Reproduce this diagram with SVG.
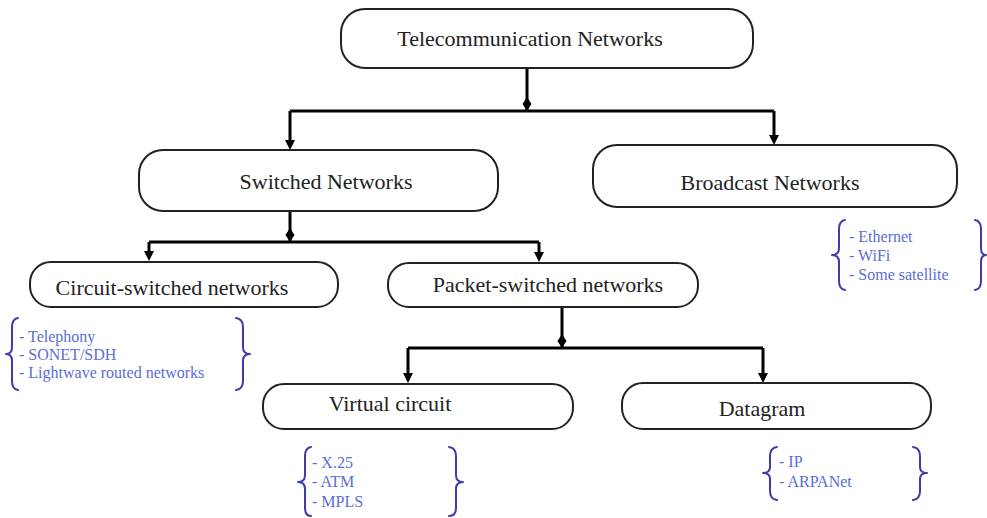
<svg xmlns="http://www.w3.org/2000/svg" width="987" height="518" viewBox="0 0 987 518">
<style>
.box{fill:#fff;stroke:#222;stroke-width:2}
.lbl{font-family:"Liberation Serif","Times New Roman",serif;font-size:22px;fill:#222;text-anchor:middle}
.item{font-family:"Liberation Serif","Times New Roman",serif;font-size:16px;fill:#5a6ed6}
.brace{fill:none;stroke:#3c3cab;stroke-width:2;stroke-linecap:round;stroke-linejoin:round}
.con{fill:none;stroke:#000;stroke-width:3}
</style>
<defs>
<marker id="arr" markerUnits="userSpaceOnUse" markerWidth="12" markerHeight="12" viewBox="0 -6 12 12" refX="2" refY="0" orient="auto">
<path d="M0,-5 L10,0 L0,5 z" fill="#000"/>
</marker>
<marker id="dia" markerUnits="userSpaceOnUse" markerWidth="16" markerHeight="12" viewBox="0 -6 16 12" refX="14" refY="0" orient="auto">
<path d="M0,0 L7,-4.5 L14,0 L7,4.5 z" fill="#000"/>
</marker>
</defs>

<g id="connectors">
<path class="con" d="M527,68 V111" marker-end="url(#dia)"/>
<path class="con" d="M774,111 H290"/>
<path class="con" d="M290,111 V142" marker-end="url(#arr)"/>
<path class="con" d="M774,111 V137" marker-end="url(#arr)"/>
<path class="con" d="M290,211 V242" marker-end="url(#dia)"/>
<path class="con" d="M539,242 H149"/>
<path class="con" d="M149,242 V253" marker-end="url(#arr)"/>
<path class="con" d="M539,242 V254" marker-end="url(#arr)"/>
<path class="con" d="M562,307 V348" marker-end="url(#dia)"/>
<path class="con" d="M763,348 H408"/>
<path class="con" d="M408,348 V375" marker-end="url(#arr)"/>
<path class="con" d="M763,348 V375" marker-end="url(#arr)"/>
</g>

<g id="telecom">
<rect class="box" x="341" y="9" width="412" height="59" rx="24"/>
<text class="lbl" x="530" y="46">Telecommunication Networks</text>
</g>

<g id="switched">
<rect class="box" x="139" y="150" width="359" height="61" rx="24"/>
<text class="lbl" x="326" y="189">Switched Networks</text>
</g>

<g id="broadcast">
<rect class="box" x="593" y="145" width="364" height="62" rx="24"/>
<text class="lbl" x="770" y="190">Broadcast Networks</text>
</g>

<g id="circuit">
<rect class="box" x="30" y="262" width="308" height="45" rx="21"/>
<text class="lbl" x="172" y="295">Circuit-switched networks</text>
</g>

<g id="packet">
<rect class="box" x="388" y="263" width="310" height="44" rx="21"/>
<text class="lbl" x="548" y="292">Packet-switched networks</text>
</g>

<g id="virtual">
<rect class="box" x="263" y="384" width="310" height="45" rx="21"/>
<text class="lbl" x="390" y="411">Virtual circuit</text>
</g>

<g id="datagram">
<rect class="box" x="622" y="383" width="309" height="46" rx="21"/>
<text class="lbl" x="762" y="416">Datagram</text>
</g>

<g id="broadcast-list">
<path class="brace" d="M845,220 Q839,221 839,229 V248 Q839,255 832,255 Q839,255 839,262 V281 Q839,289 845,290"/>
<path class="brace" d="M975,220 Q981,221 981,229 V248 Q981,255 986,255 Q981,255 981,262 V281 Q981,289 975,290"/>
<text class="item" x="849" y="242">- Ethernet</text>
<text class="item" x="849" y="261">- WiFi</text>
<text class="item" x="849" y="280">- Some satellite</text>
</g>

<g id="circuit-list">
<path class="brace" d="M18,318 Q12,319 12,327 V347 Q12,354 6,354 Q12,354 12,361 V381 Q12,389 18,390"/>
<path class="brace" d="M236,318 Q243,319 243,327 V347 Q243,354 250,354 Q243,354 243,361 V381 Q243,389 236,390"/>
<text class="item" x="19" y="342">- Telephony</text>
<text class="item" x="19" y="360">- SONET/SDH</text>
<text class="item" x="19" y="378">- Lightwave routed networks</text>
</g>

<g id="virtual-list">
<path class="brace" d="M311,447 Q305,448 305,456 V475 Q305,482 298,482 Q305,482 305,489 V508 Q305,516 311,516"/>
<path class="brace" d="M449,447 Q456,448 456,456 V475 Q456,482 463,482 Q456,482 456,489 V508 Q456,516 449,516"/>
<text class="item" x="312" y="468">- X.25</text>
<text class="item" x="312" y="487">- ATM</text>
<text class="item" x="312" y="507">- MPLS</text>
</g>

<g id="datagram-list">
<path class="brace" d="M777,447 Q770,448 770,456 V467 Q770,473 763,473 Q770,473 770,479 V491 Q770,499 777,500"/>
<path class="brace" d="M913,447 Q920,448 920,456 V467 Q920,473 927,473 Q920,473 920,479 V491 Q920,499 913,500"/>
<text class="item" x="779" y="467">- IP</text>
<text class="item" x="779" y="487">- ARPANet</text>
</g>
</svg>
